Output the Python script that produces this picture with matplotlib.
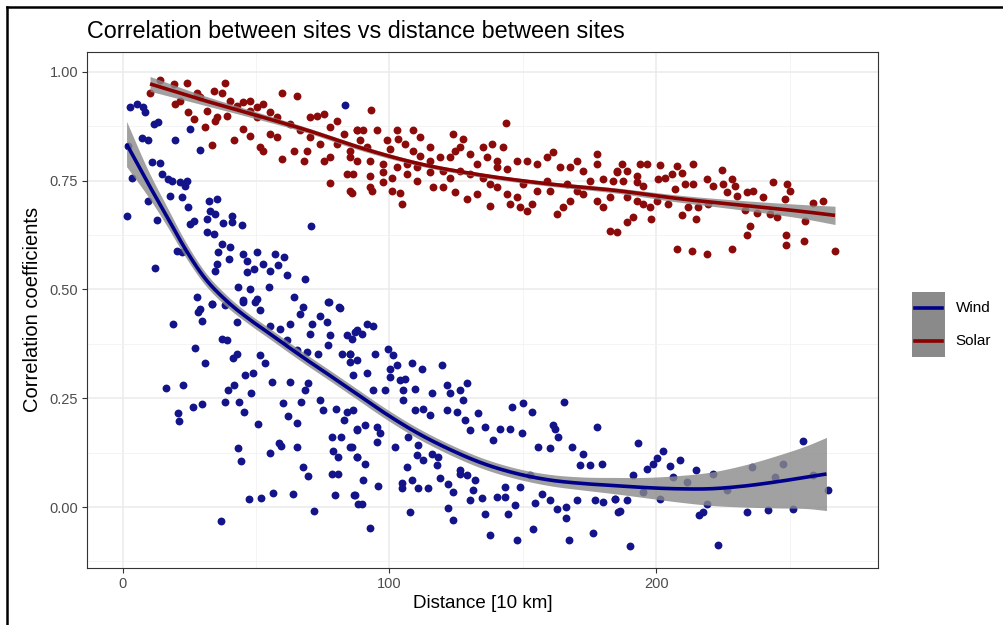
import matplotlib
matplotlib.use("Agg")
import matplotlib.pyplot as plt
from matplotlib.lines import Line2D
from matplotlib.patches import Rectangle
from matplotlib.ticker import MultipleLocator, FormatStrFormatter
import numpy as np

plt.rcParams['font.family'] = ['Liberation Sans', 'DejaVu Sans']

# distance [10 km], correlation coefficient
solar_pts = [
    (14.1, 0.981), (19.1, 0.972), (24.1, 0.973), (27.8, 0.952), (38.4, 0.974), (10.3, 0.950),
    (19.7, 0.926), (24.7, 0.907), (26.6, 0.891), (30.9, 0.872), (33.4, 0.832), (34.7, 0.887),
    (34.1, 0.956), (37.2, 0.952), (40.3, 0.933), (42.8, 0.922), (45.3, 0.930), (47.8, 0.933),
    (50.3, 0.918), (52.8, 0.926), (55.3, 0.907), (57.8, 0.895), (59.7, 0.950), (65.3, 0.945),
    (41.6, 0.842), (45.3, 0.868), (47.8, 0.853), (51.6, 0.826), (52.8, 0.819), (55.3, 0.857),
    (57.8, 0.849), (59.7, 0.800), (62.8, 0.880), (64.1, 0.819), (66.6, 0.865), (69.1, 0.819),
    (70.3, 0.895), (72.8, 0.899), (75.3, 0.903), (77.8, 0.872), (80.3, 0.887), (82.8, 0.857),
    (85.3, 0.819), (75.3, 0.796), (77.8, 0.803), (67.8, 0.796), (77.8, 0.744), (85.9, 0.721),
    (84.1, 0.765), (87.8, 0.865), (70.3, 0.849), (74.1, 0.834), (80.3, 0.834), (50.3, 0.895),
    (47.8, 0.910), (31.6, 0.910), (35.3, 0.895), (39.1, 0.899), (29.1, 0.941), (21.6, 0.933),
    (92.9, 0.912), (87.7, 0.865), (90.2, 0.865), (95.2, 0.865), (102.7, 0.867), (108.9, 0.865),
    (111.4, 0.849), (98.9, 0.842), (103.3, 0.845), (105.8, 0.835), (88.9, 0.842), (91.4, 0.826),
    (100.2, 0.822), (108.9, 0.819), (115.2, 0.826), (111.4, 0.807), (85.2, 0.803), (87.7, 0.796),
    (92.7, 0.796), (97.7, 0.788), (102.7, 0.780), (106.4, 0.788), (110.2, 0.780), (115.2, 0.796),
    (118.9, 0.803), (122.7, 0.803), (123.9, 0.857), (127.7, 0.845), (126.4, 0.826), (124.5, 0.819),
    (130.1, 0.811), (135.1, 0.826), (138.3, 0.834), (142.6, 0.826), (143.8, 0.883), (136.4, 0.803),
    (140.1, 0.796), (132.6, 0.788), (86.4, 0.765), (92.7, 0.761), (97.7, 0.769), (100.8, 0.757),
    (106.4, 0.765), (110.2, 0.750), (115.2, 0.769), (120.2, 0.773), (122.7, 0.757), (126.4, 0.773),
    (130.1, 0.765), (135.1, 0.757), (140.1, 0.780), (143.9, 0.777), (147.6, 0.796), (151.4, 0.796),
    (155.1, 0.788), (158.9, 0.803), (161.4, 0.815), (163.9, 0.780), (167.6, 0.780), (170.1, 0.796),
    (172.6, 0.773), (177.6, 0.811), (177.6, 0.788), (180.1, 0.754), (185.1, 0.773), (85.2, 0.727),
    (92.7, 0.735), (93.3, 0.727), (97.7, 0.746), (100.8, 0.727), (103.9, 0.721), (104.6, 0.695),
    (116.4, 0.735), (120.2, 0.735), (124.5, 0.723), (128.9, 0.708), (132.6, 0.719), (137.6, 0.742),
    (140.1, 0.735), (137.6, 0.692), (143.9, 0.719), (145.1, 0.696), (147.6, 0.712), (148.9, 0.689),
    (151.4, 0.681), (153.2, 0.696), (155.1, 0.727), (160.1, 0.727), (162.6, 0.673), (165.1, 0.689),
    (167.6, 0.704), (170.1, 0.727), (172.6, 0.719), (177.6, 0.704), (180.1, 0.689), (182.6, 0.712),
    (182.6, 0.633), (150.1, 0.742), (158.9, 0.750), (166.4, 0.742), (175.1, 0.750),
    (187.0, 0.788), (193.8, 0.788), (196.3, 0.788), (201.3, 0.786), (207.6, 0.784), (213.8, 0.787),
    (224.4, 0.774), (185.1, 0.769), (188.8, 0.773), (192.6, 0.761), (183.8, 0.750), (187.6, 0.750),
    (192.6, 0.746), (195.1, 0.738), (200.7, 0.754), (203.2, 0.757), (205.7, 0.765), (209.4, 0.767),
    (207.0, 0.731), (210.7, 0.742), (213.8, 0.742), (218.8, 0.754), (221.3, 0.738), (225.0, 0.742),
    (228.2, 0.754), (229.4, 0.738), (226.3, 0.723), (230.0, 0.715), (233.8, 0.723), (236.3, 0.727),
    (243.8, 0.746), (248.8, 0.742), (250.0, 0.727), (240.0, 0.712), (248.1, 0.708), (258.8, 0.698),
    (262.5, 0.704), (188.8, 0.712), (192.6, 0.704), (195.1, 0.695), (197.6, 0.689), (200.1, 0.704),
    (204.4, 0.696), (211.9, 0.690), (215.7, 0.689), (219.4, 0.696), (233.2, 0.683), (237.5, 0.675),
    (242.5, 0.673), (245.0, 0.666), (255.6, 0.658), (185.1, 0.631), (188.8, 0.654), (191.1, 0.666),
    (198.0, 0.662), (209.4, 0.672), (214.8, 0.662), (235.0, 0.645), (233.8, 0.624), (248.4, 0.625),
    (248.4, 0.601), (255.3, 0.610), (207.6, 0.592), (213.2, 0.589), (219.1, 0.582), (228.4, 0.592),
    (266.9, 0.589),
]

wind_pts = [
    (83.4, 0.924), (2.0, 0.830),
    (2.8, 0.918), (5.3, 0.926), (7.8, 0.918), (8.4, 0.907), (11.6, 0.880), (13.4, 0.884),
    (25.3, 0.868), (7.2, 0.848), (9.7, 0.842), (19.7, 0.842), (29.1, 0.821), (3.4, 0.757),
    (1.6, 0.668), (10.9, 0.792), (14.1, 0.790), (14.7, 0.764), (17.2, 0.754), (18.4, 0.750),
    (21.6, 0.746), (23.4, 0.738), (24.1, 0.750), (17.8, 0.714), (22.2, 0.712), (24.7, 0.690),
    (9.7, 0.704), (12.8, 0.660), (32.2, 0.704), (35.3, 0.708), (32.8, 0.681), (34.7, 0.673),
    (31.6, 0.662), (25.3, 0.650), (26.6, 0.658), (37.8, 0.652), (41.0, 0.668), (41.0, 0.654),
    (44.9, 0.647), (31.6, 0.631), (34.3, 0.628), (70.7, 0.645), (37.2, 0.604), (40.3, 0.597),
    (35.9, 0.585), (20.3, 0.589), (22.2, 0.585), (39.7, 0.570), (45.3, 0.582), (50.3, 0.585),
    (57.2, 0.582), (60.3, 0.574), (46.6, 0.566), (49.1, 0.547), (52.8, 0.559), (55.3, 0.543),
    (58.4, 0.555), (61.6, 0.532), (46.6, 0.540), (35.3, 0.559), (34.7, 0.543), (12.2, 0.549),
    (68.4, 0.524), (43.4, 0.505), (47.8, 0.501), (54.7, 0.505), (64.1, 0.482), (77.2, 0.471),
    (80.9, 0.459), (27.8, 0.482), (33.4, 0.467), (45.3, 0.475), (50.3, 0.478), (29.1, 0.455),
    (19.0, 0.421), (29.6, 0.427), (28.4, 0.448), (33.4, 0.467), (38.4, 0.463), (42.8, 0.425),
    (45.3, 0.471), (49.6, 0.471), (51.5, 0.452), (55.2, 0.417), (59.0, 0.408), (62.7, 0.421),
    (66.5, 0.444), (67.7, 0.460), (70.8, 0.421), (74.0, 0.440), (76.5, 0.425), (77.1, 0.471),
    (81.5, 0.458), (70.2, 0.398), (77.7, 0.395), (84.0, 0.395), (87.1, 0.402), (37.1, 0.387),
    (39.0, 0.383), (27.2, 0.365), (30.7, 0.332), (42.8, 0.352), (41.5, 0.343), (51.5, 0.349),
    (53.4, 0.330), (61.5, 0.383), (65.2, 0.360), (69.0, 0.356), (73.3, 0.352), (77.1, 0.372),
    (82.1, 0.352), (85.2, 0.352), (85.2, 0.333), (45.9, 0.303), (49.0, 0.308), (55.9, 0.287),
    (62.7, 0.287), (69.6, 0.284), (68.4, 0.268), (39.6, 0.268), (41.8, 0.280), (48.1, 0.262),
    (16.2, 0.274), (22.8, 0.281), (20.9, 0.217), (21.3, 0.198), (26.5, 0.229), (29.9, 0.236),
    (38.4, 0.242), (43.8, 0.242), (45.5, 0.219), (50.9, 0.190), (60.0, 0.240), (62.1, 0.209),
    (65.5, 0.194), (66.7, 0.242), (73.9, 0.245), (75.2, 0.223), (80.0, 0.226), (83.0, 0.200),
    (84.0, 0.219), (86.5, 0.223), (87.7, 0.177), (78.6, 0.161), (81.7, 0.161), (85.2, 0.138),
    (78.7, 0.128), (80.8, 0.115), (87.7, 0.114), (58.5, 0.148), (59.2, 0.141), (65.2, 0.138),
    (55.2, 0.125), (43.1, 0.136), (44.3, 0.106), (67.7, 0.093), (69.6, 0.071), (78.3, 0.076),
    (80.8, 0.076), (79.6, 0.028), (86.7, 0.028), (88.3, 0.008), (47.5, 0.018), (51.9, 0.021),
    (56.5, 0.033), (63.7, 0.031), (71.7, -0.008), (36.8, -0.032),
    (91.4, 0.420), (93.9, 0.415), (87.7, 0.406), (89.6, 0.398), (85.8, 0.387), (85.2, 0.352),
    (87.7, 0.337), (86.4, 0.303), (91.4, 0.307), (94.6, 0.352), (99.6, 0.364), (101.4, 0.349),
    (102.7, 0.326), (100.2, 0.318), (100.2, 0.299), (103.9, 0.291), (105.8, 0.295), (108.3, 0.330),
    (112.0, 0.318), (119.5, 0.327), (105.2, 0.268), (109.5, 0.272), (115.8, 0.261), (121.4, 0.280),
    (122.7, 0.261), (126.4, 0.268), (128.9, 0.285), (127.6, 0.245), (93.9, 0.268), (98.3, 0.268),
    (105.2, 0.245), (109.5, 0.223), (112.7, 0.226), (115.2, 0.211), (121.4, 0.223), (125.2, 0.219),
    (128.3, 0.200), (130.1, 0.177), (133.3, 0.215), (135.8, 0.184), (138.9, 0.154), (141.4, 0.180),
    (145.1, 0.180), (145.8, 0.230), (150.1, 0.238), (153.2, 0.219), (149.5, 0.169), (161.4, 0.188),
    (162.0, 0.180), (163.2, 0.161), (165.3, 0.242), (177.6, 0.184), (155.7, 0.138), (160.1, 0.135),
    (168.2, 0.138), (172.6, 0.123), (175.1, 0.096), (179.5, 0.100), (171.3, 0.096), (87.7, 0.180),
    (90.8, 0.188), (95.2, 0.184), (96.4, 0.169), (95.2, 0.150), (102.1, 0.138), (107.0, 0.161),
    (110.8, 0.142), (110.2, 0.119), (115.8, 0.123), (118.3, 0.115), (117.7, 0.096), (112.7, 0.108),
    (106.4, 0.092), (85.8, 0.138), (87.9, 0.115), (90.8, 0.100), (90.2, 0.062), (95.8, 0.048),
    (104.6, 0.056), (108.3, 0.062), (104.6, 0.043), (110.8, 0.043), (114.5, 0.043), (118.9, 0.066),
    (122.0, 0.054), (123.9, 0.035), (126.4, 0.077), (128.9, 0.073), (132.0, 0.062), (131.4, 0.039),
    (134.5, 0.020), (130.1, 0.016), (126.4, 0.085), (140.1, 0.024), (143.2, 0.047), (143.2, 0.024),
    (147.0, 0.005), (148.9, 0.047), (152.6, 0.073), (157.0, 0.031), (154.5, 0.010), (160.1, 0.016),
    (162.6, -0.005), (166.3, 0.001), (166.3, -0.026), (170.1, 0.016), (176.9, 0.016), (180.1, 0.012),
    (184.4, 0.018), (185.7, -0.011), (87.1, 0.028), (89.6, 0.008), (107.7, -0.011), (122.0, -0.003),
    (123.9, -0.030), (135.8, -0.015), (144.5, -0.015), (92.7, -0.049), (137.6, -0.064),
    (147.6, -0.076), (153.9, -0.051), (167.2, -0.076), (176.3, -0.059),
    (193.2, 0.148), (202.6, 0.128), (200.1, 0.112), (198.8, 0.100), (196.3, 0.087), (205.1, 0.094),
    (208.8, 0.109), (214.7, 0.086), (191.1, 0.073), (206.1, 0.070), (221.1, 0.077), (235.7, 0.093),
    (247.5, 0.100), (255.0, 0.151), (244.4, 0.070), (264.4, 0.040), (184.5, 0.018), (189.1, 0.016),
    (186.3, -0.008), (201.3, 0.018), (219.1, 0.007), (216.1, -0.018), (217.5, -0.011),
    (233.8, -0.011), (241.7, -0.007), (251.3, -0.005), (190.1, -0.089), (222.9, -0.087),
    (195.1, 0.035), (211.3, 0.058), (226.3, 0.039), (258.8, 0.073),
]

# smoothed fits with half-width of the confidence band
wind_fit_x = [1.5, 9.7, 16.6, 22.8, 30.3, 40, 47.8, 55.2, 62.7, 70.2, 77.7, 87.7, 97.7,
              110.2, 122.7, 135.1, 147.6, 160.1, 172.6, 185.1, 195.1, 207.6, 220.1, 232.5,
              245.0, 257.5, 263.7]
wind_fit_y = [0.834, 0.742, 0.668, 0.600, 0.530, 0.468, 0.430, 0.398, 0.365, 0.333,
              0.302, 0.260, 0.218, 0.171, 0.132, 0.100, 0.077, 0.062, 0.054, 0.049, 0.045,
              0.042, 0.042, 0.048, 0.058, 0.070, 0.076]
wind_fit_se = [0.052, 0.030, 0.022, 0.018, 0.015, 0.013, 0.012, 0.012, 0.012, 0.012,
               0.012, 0.012, 0.012, 0.012, 0.012, 0.012, 0.012, 0.013, 0.015, 0.019, 0.023,
               0.030, 0.038, 0.048, 0.060, 0.074, 0.084]

solar_fit_x = [10.3, 30, 50, 70, 87.7, 110.2, 135.1, 160.1, 185.1, 207.6, 232.5, 257.5, 266.9]
solar_fit_y = [0.972, 0.935, 0.900, 0.864, 0.828, 0.790, 0.762, 0.742, 0.727, 0.709, 0.693,
               0.677, 0.670]
solar_fit_se = [0.017, 0.011, 0.008, 0.006, 0.006, 0.005, 0.005, 0.005, 0.006, 0.008, 0.011,
                0.017, 0.021]

series = ["Wind", "Solar"]
point_colors = {"Wind": "#14148a", "Solar": "#8b0a0a"}
line_colors = {"Wind": "#00008b", "Solar": "#8b0000"}
band_color = "#8a8a8a"


def hermite(x, y, n=400):
    # smooth curve through the read-off fit values
    x = np.asarray(x, float)
    y = np.asarray(y, float)
    m = np.gradient(y, x)
    xs = np.linspace(x[0], x[-1], n)
    i = np.clip(np.searchsorted(x, xs) - 1, 0, len(x) - 2)
    h = x[i + 1] - x[i]
    t = (xs - x[i]) / h
    h00 = 2 * t**3 - 3 * t**2 + 1
    h10 = t**3 - 2 * t**2 + t
    h01 = -2 * t**3 + 3 * t**2
    h11 = t**3 - t**2
    return xs, h00 * y[i] + h10 * h * m[i] + h01 * y[i + 1] + h11 * h * m[i + 1]


def main():
    fig = plt.figure(figsize=(10.04, 6.25), dpi=100)
    ax = fig.add_axes([0.0867, 0.0912, 0.7878, 0.8261])

    sx, sy = zip(*solar_pts)
    wx, wy = zip(*wind_pts)
    ax.scatter(sx, sy, s=32, color=point_colors["Solar"], linewidths=0, zorder=3)
    ax.scatter(wx, wy, s=32, color=point_colors["Wind"], linewidths=0, zorder=3)

    fits = {
        "Wind": (wind_fit_x, wind_fit_y, wind_fit_se),
        "Solar": (solar_fit_x, solar_fit_y, solar_fit_se),
    }
    for name in series:
        fx, fy, se = fits[name]
        xs, ys = hermite(fx, fy)
        _, ss = hermite(fx, se)
        ax.fill_between(xs, ys - ss, ys + ss, color=band_color, alpha=0.8,
                        linewidth=0, zorder=4)
        ax.plot(xs, ys, color=line_colors[name], lw=2.6, zorder=5,
                solid_capstyle="butt")

    ax.set_xlim(-13.3, 283)
    ax.set_ylim(-0.14, 1.046)
    ax.xaxis.set_major_locator(MultipleLocator(100))
    ax.xaxis.set_minor_locator(MultipleLocator(50))
    ax.yaxis.set_major_locator(MultipleLocator(0.25))
    ax.yaxis.set_minor_locator(MultipleLocator(0.125))
    ax.yaxis.set_major_formatter(FormatStrFormatter("%.2f"))
    ax.grid(which="major", color="#ebebeb", lw=1.1, zorder=0)
    ax.grid(which="minor", color="#f2f2f2", lw=0.6, zorder=0)
    ax.set_axisbelow(True)
    ax.tick_params(which="major", length=3.5, width=0.8, color="#333333",
                   labelsize=10.5, labelcolor="#4d4d4d", pad=3)
    ax.tick_params(which="minor", length=0)
    for sp in ax.spines.values():
        sp.set_color("#333333")
        sp.set_linewidth(0.8)

    ax.set_xlabel("Distance [10 km]", fontsize=13.5, color="black", labelpad=3)
    ax.set_ylabel("Correlation coefficients", fontsize=14.5, color="black", labelpad=5)
    ax.set_title("Correlation between sites vs distance between sites", fontsize=16.8,
                 loc="left", pad=10)

    # legend drawn as ggplot does: grey keys with a coloured line
    key_x0, key_x1 = 0.9084, 0.9412
    key_centres = [0.5072, 0.4544]
    key_h = 0.0528
    fig.patches.append(Rectangle((key_x0, key_centres[-1] - key_h / 2), key_x1 - key_x0,
                                 key_centres[0] - key_centres[-1] + key_h,
                                 transform=fig.transFigure, facecolor=band_color,
                                 edgecolor="none"))
    for name, yc in zip(series, key_centres):
        fig.add_artist(Line2D([key_x0 + 0.003, key_x1 - 0.003], [yc, yc],
                              color=line_colors[name], lw=2.6))
        fig.text(0.952, yc, name, fontsize=11, va="center", ha="left")

    # screenshot frame on the left and top
    fig.add_artist(Line2D([0.0065, 0.0065], [0.0, 0.989], color="black", lw=1.8))
    fig.add_artist(Line2D([0.0065, 1.0], [0.989, 0.989], color="black", lw=1.8))

    fig.savefig("out.png", dpi=100)


if __name__ == "__main__":
    main()
